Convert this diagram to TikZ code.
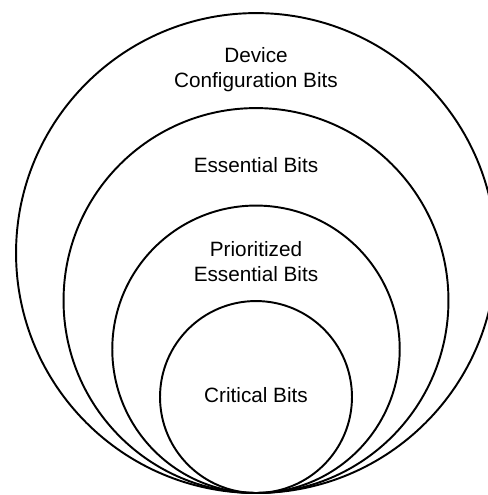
\documentclass[tikz,border=0pt]{standalone}
\usepackage{fontspec}
\setmainfont{Liberation Sans}
\usetikzlibrary{positioning}
\begin{document}
\begin{tikzpicture}[
    x=0.02cm, y=0.02cm,
    ring/.style={draw, circle, line width=1.1pt, inner sep=0pt, outer sep=0pt,
                 anchor=south},
    lbl/.style={align=center, font=\fontsize{11.8}{14.2}\selectfont}]
  \clip (0,0) rectangle (488,495);
  \coordinate (base) at (256,2);
  % nested sets, all touching at the bottom
  \node[ring, minimum size=9.6cm] (device) at (base) {};
  \node[ring, minimum size=7.7cm] (essential) at (base) {};
  \node[ring, minimum size=5.75cm] (prioritized) at (base) {};
  \node[ring, minimum size=3.84cm] (critical) at (base) {};
  \node[lbl, below=0.56cm of device.north] (devtext) {Device\\Configuration Bits};
  \node[lbl, below=0.86cm of essential.north] (esstext) {Essential Bits};
  \node[lbl, below=0.60cm of prioritized.north] (priotext) {Prioritized\\Essential Bits};
  \node[lbl, below=1.6cm of critical.north] (crittext) {Critical Bits};
\end{tikzpicture}
\end{document}
